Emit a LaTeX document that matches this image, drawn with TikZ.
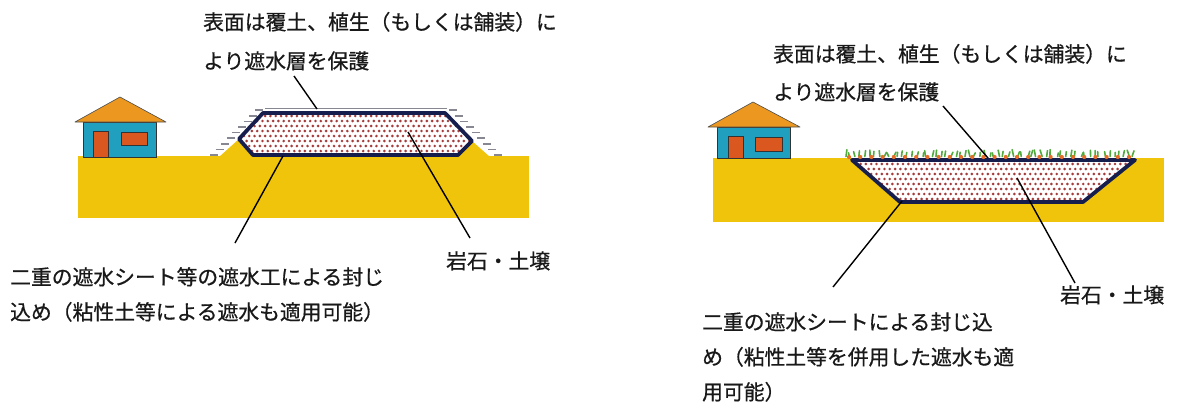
\documentclass[tikz,border=0pt]{standalone}
\usepackage{fontspec}
\newfontfamily\jp[FakeBold=0.7]{Noto Sans CJK JP}
\definecolor{soil}{RGB}{240,196,10}
\definecolor{navy}{RGB}{22,30,78}
\definecolor{wallc}{RGB}{32,160,190}
\definecolor{roofc}{RGB}{236,152,32}
\definecolor{doorc}{RGB}{218,88,32}
\definecolor{dotc}{RGB}{165,60,60}
\definecolor{grass}{RGB}{80,170,60}
\definecolor{bud}{RGB}{230,110,40}
\definecolor{tickc}{RGB}{135,135,145}
\begin{document}
\begin{tikzpicture}[x=1pt,y=-1pt,
  ground/.style={fill=soil,draw=none},
  wall/.style={fill=wallc,draw=black!80,line width=0.8},
  roof/.style={fill=roofc,draw=black!70,line width=0.6,line join=round},
  opening/.style={fill=doorc,draw=black!80,line width=0.8},
  liner/.style={draw=navy,line width=3.8,line join=round,line cap=round},
  leader/.style={draw=black,line width=1.4},
  slopetick/.style={draw=tickc,line width=1.5},
  label/.style={font=\jp\fontsize{20.8}{24}\selectfont,inner sep=0,anchor=west,
    text height=19pt,text depth=3.5pt,text=black!90}]
\useasboundingbox (0,0) rectangle (1178,413);

% ---------- left: mound built on the ground ----------
\fill[ground] (78,156) rectangle (529,218);
% house
\draw[wall] (83,122) rectangle (156,157);
\draw[roof] (75,122) -- (120,97) -- (166,122) -- cycle;
\draw[opening] (93,131) rectangle (108,157);
\draw[opening] (121,132) rectangle (147,145);
% yellow toes of the mound
\fill[soil] (219,157) -- (239,139) -- (258,157) -- cycle;
\fill[soil] (472,141) -- (490,157) -- (452,157) -- cycle;
% protective cover: top line and slope ticks
\draw[tickc,line width=2.4] (265,109) -- (447,109);
\draw[white,line width=0.6] (265,109.4) -- (447,109.4);
\foreach \k in {0,...,8}{
  \pgfmathsetmacro\ty{155-\k*5.6}
  \pgfmathsetmacro\tx{218+(155-\ty)}
  \draw[slopetick] (\tx-8,\ty) -- (\tx,\ty);
  \draw[slopetick] (712-\tx,\ty) -- (712-\tx+8,\ty);
}
% sealed body with dotted fill
\fill[white] (263,113) -- (445,113) -- (472,141) -- (458,155) -- (253,155) -- (239,139) -- cycle;
\begin{scope}
  \clip (263,113) -- (445,113) -- (472,141) -- (458,155) -- (253,155) -- (239,139) -- cycle;
  \foreach \r in {0,...,9}{
    \foreach \c in {0,...,46}{
      \fill[dotc] ({236+\c*5.3+mod(\r,2)*2.65},{111+\r*5}) circle[radius=1.45pt];
    }
  }
\end{scope}
\draw[liner] (263,113) -- (445,113) -- (472,141) -- (458,155) -- (253,155) -- (239,139) -- cycle;

% leaders (left)
\coordinate (lTopS) at (294,76);   \coordinate (lTopE) at (317,109);
\coordinate (lSealS) at (283,156); \coordinate (lSealE) at (235,243);
\coordinate (lRockS) at (408,132); \coordinate (lRockE) at (470,238);
\draw[leader] (lTopS) -- (lTopE);
\draw[leader] (lSealS) -- (lSealE);
\draw[leader] (lRockS) -- (lRockE);

% labels (left)
\node[label] (lTop1) at (203,22) {表面は覆土、植生（もしくは舗装）に};
\node[label] (lTop2) at (203,61) {より遮水層を保護};
\node[label] (lSeal1) at (10,277) {二重の遮水シート等の遮水工による封じ};
\node[label] (lSeal2) at (10,312) {込め（粘性土等による遮水も適用可能）};
\node[label] (lRock) at (446,261) {岩石・土壌};

% ---------- right: pit dug into the ground ----------
\fill[ground] (713,158) rectangle (1164,222);
% house
\draw[wall] (717,127) rectangle (790,158);
\draw[roof] (708,127) -- (753,102) -- (800,127) -- cycle;
\draw[opening] (728,136) rectangle (743,158);
\draw[opening] (755,137) rectangle (782,151);
% sealed pit with dotted fill
\fill[white] (852,160) -- (1135,160) -- (1083,202) -- (900,202) -- cycle;
\begin{scope}
  \clip (852,160) -- (1135,160) -- (1083,202) -- (900,202) -- cycle;
  \foreach \r in {0,...,8}{
    \foreach \c in {0,...,55}{
      \fill[dotc] ({850+\c*5.3+mod(\r,2)*2.65},{164+\r*5}) circle[radius=1.45pt];
    }
  }
\end{scope}
\draw[liner] (852,160) -- (1135,160) -- (1083,202) -- (900,202) -- cycle;
% vegetation on the surface
\pgfmathsetseed{11}
\foreach \i in {0,...,60}{
  \pgfmathsetmacro\gx{845+\i*4.8+1.5*rand}
  \pgfmathsetmacro\gh{3.5+3.5*rnd}
  \pgfmathsetmacro\gl{2.2*rand}
  \draw[grass,line width=1.6,line cap=round] (\gx,156.5) -- ++(\gl,-\gh);
}
\foreach \i in {0,...,25}{
  \fill[bud] ({849+\i*11.2},157) circle[radius=2.1pt];
}

% leaders (right)
\coordinate (rTopS) at (943,106);   \coordinate (rTopE) at (988,158);
\coordinate (rSealS) at (902,201);  \coordinate (rSealE) at (833,287);
\coordinate (rRockS) at (1017,178); \coordinate (rRockE) at (1075,283);
\draw[leader] (rTopS) -- (rTopE);
\draw[leader] (rSealS) -- (rSealE);
\draw[leader] (rRockS) -- (rRockE);

% labels (right)
\node[label] (rTop1) at (773,54) {表面は覆土、植生（もしくは舗装）に};
\node[label] (rTop2) at (773,92) {より遮水層を保護};
\node[label] (rSeal1) at (702,322) {二重の遮水シートによる封じ込};
\node[label] (rSeal2) at (702,357) {め（粘性土等を併用した遮水も適};
\node[label] (rSeal3) at (702,392) {用可能）};
\node[label] (rRock) at (1060,295) {岩石・土壌};
\end{tikzpicture}
\end{document}
